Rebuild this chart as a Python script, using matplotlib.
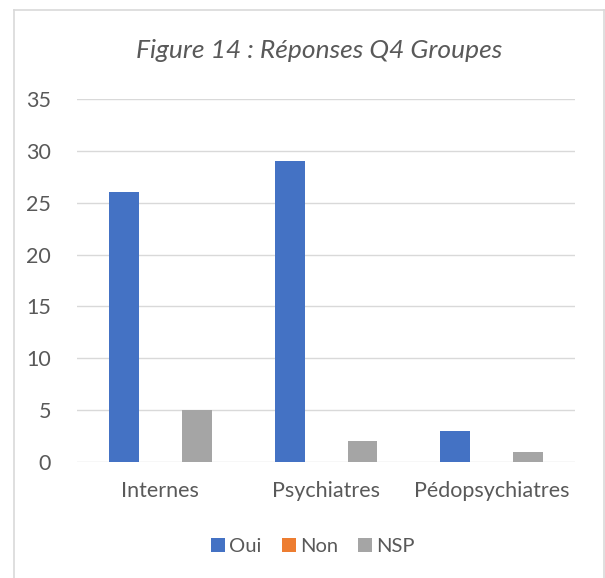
import matplotlib.pyplot as plt
import numpy as np
from matplotlib.lines import Line2D

plt.rcParams['font.family'] = ['Lato', 'DejaVu Sans']

categories = ['Internes', 'Psychiatres', 'Pédopsychiatres']
oui = [26, 29, 3]
non = [0, 0, 0]
nsp = [5, 2, 1]
series = [('Oui', oui, '#4472C4'), ('Non', non, '#ED7D31'), ('NSP', nsp, '#A5A5A5')]

fig = plt.figure(figsize=(6.05, 5.78), dpi=100)
ax = fig.add_axes([0.128, 0.2007, 0.822, 0.628])

x = np.arange(len(categories))
offsets = [-0.22, 0, 0.22]
for (name, vals, color), off in zip(series, offsets):
    ax.bar(x + off, vals, width=0.18, color=color, label=name, zorder=3)

ax.set_xlim(-0.5, 2.5)
ax.set_ylim(0, 35)
ax.set_yticks(range(0, 36, 5))
ax.set_xticks(x)
ax.set_xticklabels(categories)
ax.grid(axis='y', color='#D9D9D9', linewidth=1, zorder=0)
for s in ax.spines.values():
    s.set_visible(False)
ax.tick_params(length=0, labelsize=15.5, colors='#595959')
ax.tick_params(axis='y', pad=19)
ax.tick_params(axis='x', pad=14)

fig.text(0.528, 0.912, 'Figure 14 : Réponses Q4 Groupes', ha='center', va='center',
         fontsize=19, style='italic', color='#595959')

fig.legend(loc='center', bbox_to_anchor=(0.517, 0.054), ncol=3, frameon=False,
           fontsize=14.5, handlelength=0.7, handleheight=0.7, handletextpad=0.2,
           columnspacing=1.0, labelcolor='#595959')

# border of the chart area
bc = '#D9D9D9'
fig.add_artist(Line2D([0.023, 0.023], [0, 0.983], color=bc, lw=1.2, transform=fig.transFigure))
fig.add_artist(Line2D([0.998, 0.998], [0, 0.983], color=bc, lw=1.2, transform=fig.transFigure))
fig.add_artist(Line2D([0.023, 0.998], [0.983, 0.983], color=bc, lw=1.2, transform=fig.transFigure))

fig.savefig('out.png', dpi=100)
